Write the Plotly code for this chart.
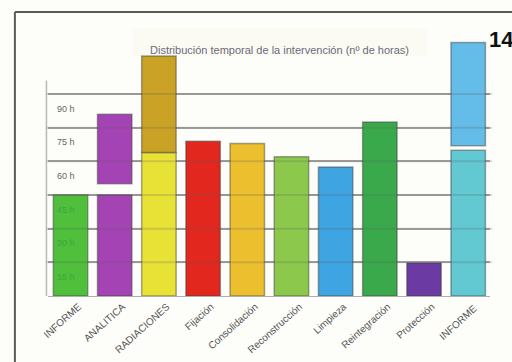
import plotly.graph_objects as go

categories = ["INFORME", "ANALITICA", "RADIACIONES", "Fijación", "Consolidación",
              "Reconstrucción", "Limpieza", "Reintegración", "Protección", "INFORME "]
lower_values = [45, 45, 64, 69, 68, 62, 57.5, 77.5, 14.7, 65]
lower_colors = ["#4fbf3c", "#a444b4", "#e9e236", "#e2271e", "#ecbf2e",
                "#8cc84c", "#3ea4e2", "#3aa94c", "#6b3aa2", "#62c8d2"]
upper_base = [None, 50, 64, None, None, None, None, None, None, 67]
upper_top = [None, 81, 107, None, None, None, None, None, None, 113]
upper_colors = ["#ffffff", "#a444b4", "#c9a226", "#ffffff", "#ffffff",
                "#ffffff", "#ffffff", "#ffffff", "#ffffff", "#64bce8"]
grid_values = [15, 30, 45, 60, 75, 90]
grid_labels = ["15 h", "30 h", "45 h", "60 h", "75 h", "90 h"]
label_colors = ["#3aa83a", "#3aa83a", "#3aa83a", "#666666", "#666666", "#666666"]

W, H = 512, 362
def px(x):
    return x / W
def py(y):
    return 1 - y / H

fig = go.Figure()
fig.add_bar(x=categories, y=lower_values, marker=dict(color=lower_colors,
            line=dict(color="rgba(60,60,60,0.45)", width=1.5)), width=0.78)
up_len = [None if b is None else t - b for b, t in zip(upper_base, upper_top)]
fig.add_bar(x=categories, y=up_len, base=upper_base, marker=dict(color=upper_colors,
            line=dict(color="rgba(60,60,60,0.45)", width=1.5)), width=0.78)

ymax = 115
shapes = [
    dict(type="line", xref="paper", yref="paper", x0=px(8), x1=px(8), y0=py(12), y1=0,
         line=dict(color="#5a5a5a", width=2)),
    dict(type="line", xref="paper", yref="paper", x0=px(8), x1=1, y0=py(12), y1=py(12),
         line=dict(color="#5a5a5a", width=2)),
    dict(type="line", xref="paper", yref="y", x0=px(40), x1=px(40), y0=0, y1=96,
         line=dict(color="#b8b8b8", width=1.5)),
    dict(type="rect", xref="paper", yref="paper", x0=px(128), x1=px(425), y0=py(28), y1=py(56),
         line=dict(width=0), fillcolor="rgba(245,245,232,0.35)", layer="below"),
]
for v in grid_values:
    shapes.append(dict(type="line", xref="paper", yref="y", x0=px(40), x1=px(492), y0=v, y1=v,
                       line=dict(color="rgba(90,90,90,0.22)", width=2), layer="above"))

fig.update_layout(
    width=W, height=H, margin=dict(l=0, r=0, t=0, b=0),
    paper_bgcolor="#fdfdf9", plot_bgcolor="rgba(0,0,0,0)",
    showlegend=False, barmode="overlay",
    xaxis=dict(domain=[px(42), px(490)], range=[-0.5, 9.5], tickangle=-42,
               tickfont=dict(family="Liberation Sans, Arial", size=10, color="#555555"),
               ticklabelshift=8,
               showgrid=False, showline=True, linecolor="#b0b0b0", linewidth=1,
               ticks="", fixedrange=True),
    yaxis=dict(domain=[py(296), py(296 - ymax * 2.244)], range=[0, ymax],
               tickvals=grid_values, showticklabels=False, showgrid=True,
               gridcolor="#a8a8a8", gridwidth=2, zeroline=False, showline=False),
    shapes=shapes,
)

annotations = []
for v, t, c in zip(grid_values, grid_labels, label_colors):
    annotations.append(dict(x=-0.1, y=v - 6.5, xref="x", yref="y", text=t, showarrow=False,
                            font=dict(family="Liberation Sans, Arial", size=9, color=c)))
annotations.append(dict(x=px(276), y=py(42), xref="paper", yref="paper",
                        text="Distribución temporal de la intervención (nº de horas)",
                        showarrow=False, font=dict(family="Liberation Sans, Arial", size=11, color="#6a6a7a")))
annotations.append(dict(x=px(487), y=py(25), xref="paper", yref="paper", xanchor="left",
                        text="<b>14</b>", showarrow=False,
                        font=dict(family="Liberation Sans, Arial", size=22, color="#111111")))
fig.update_layout(annotations=annotations)

fig.write_html("out.html")
